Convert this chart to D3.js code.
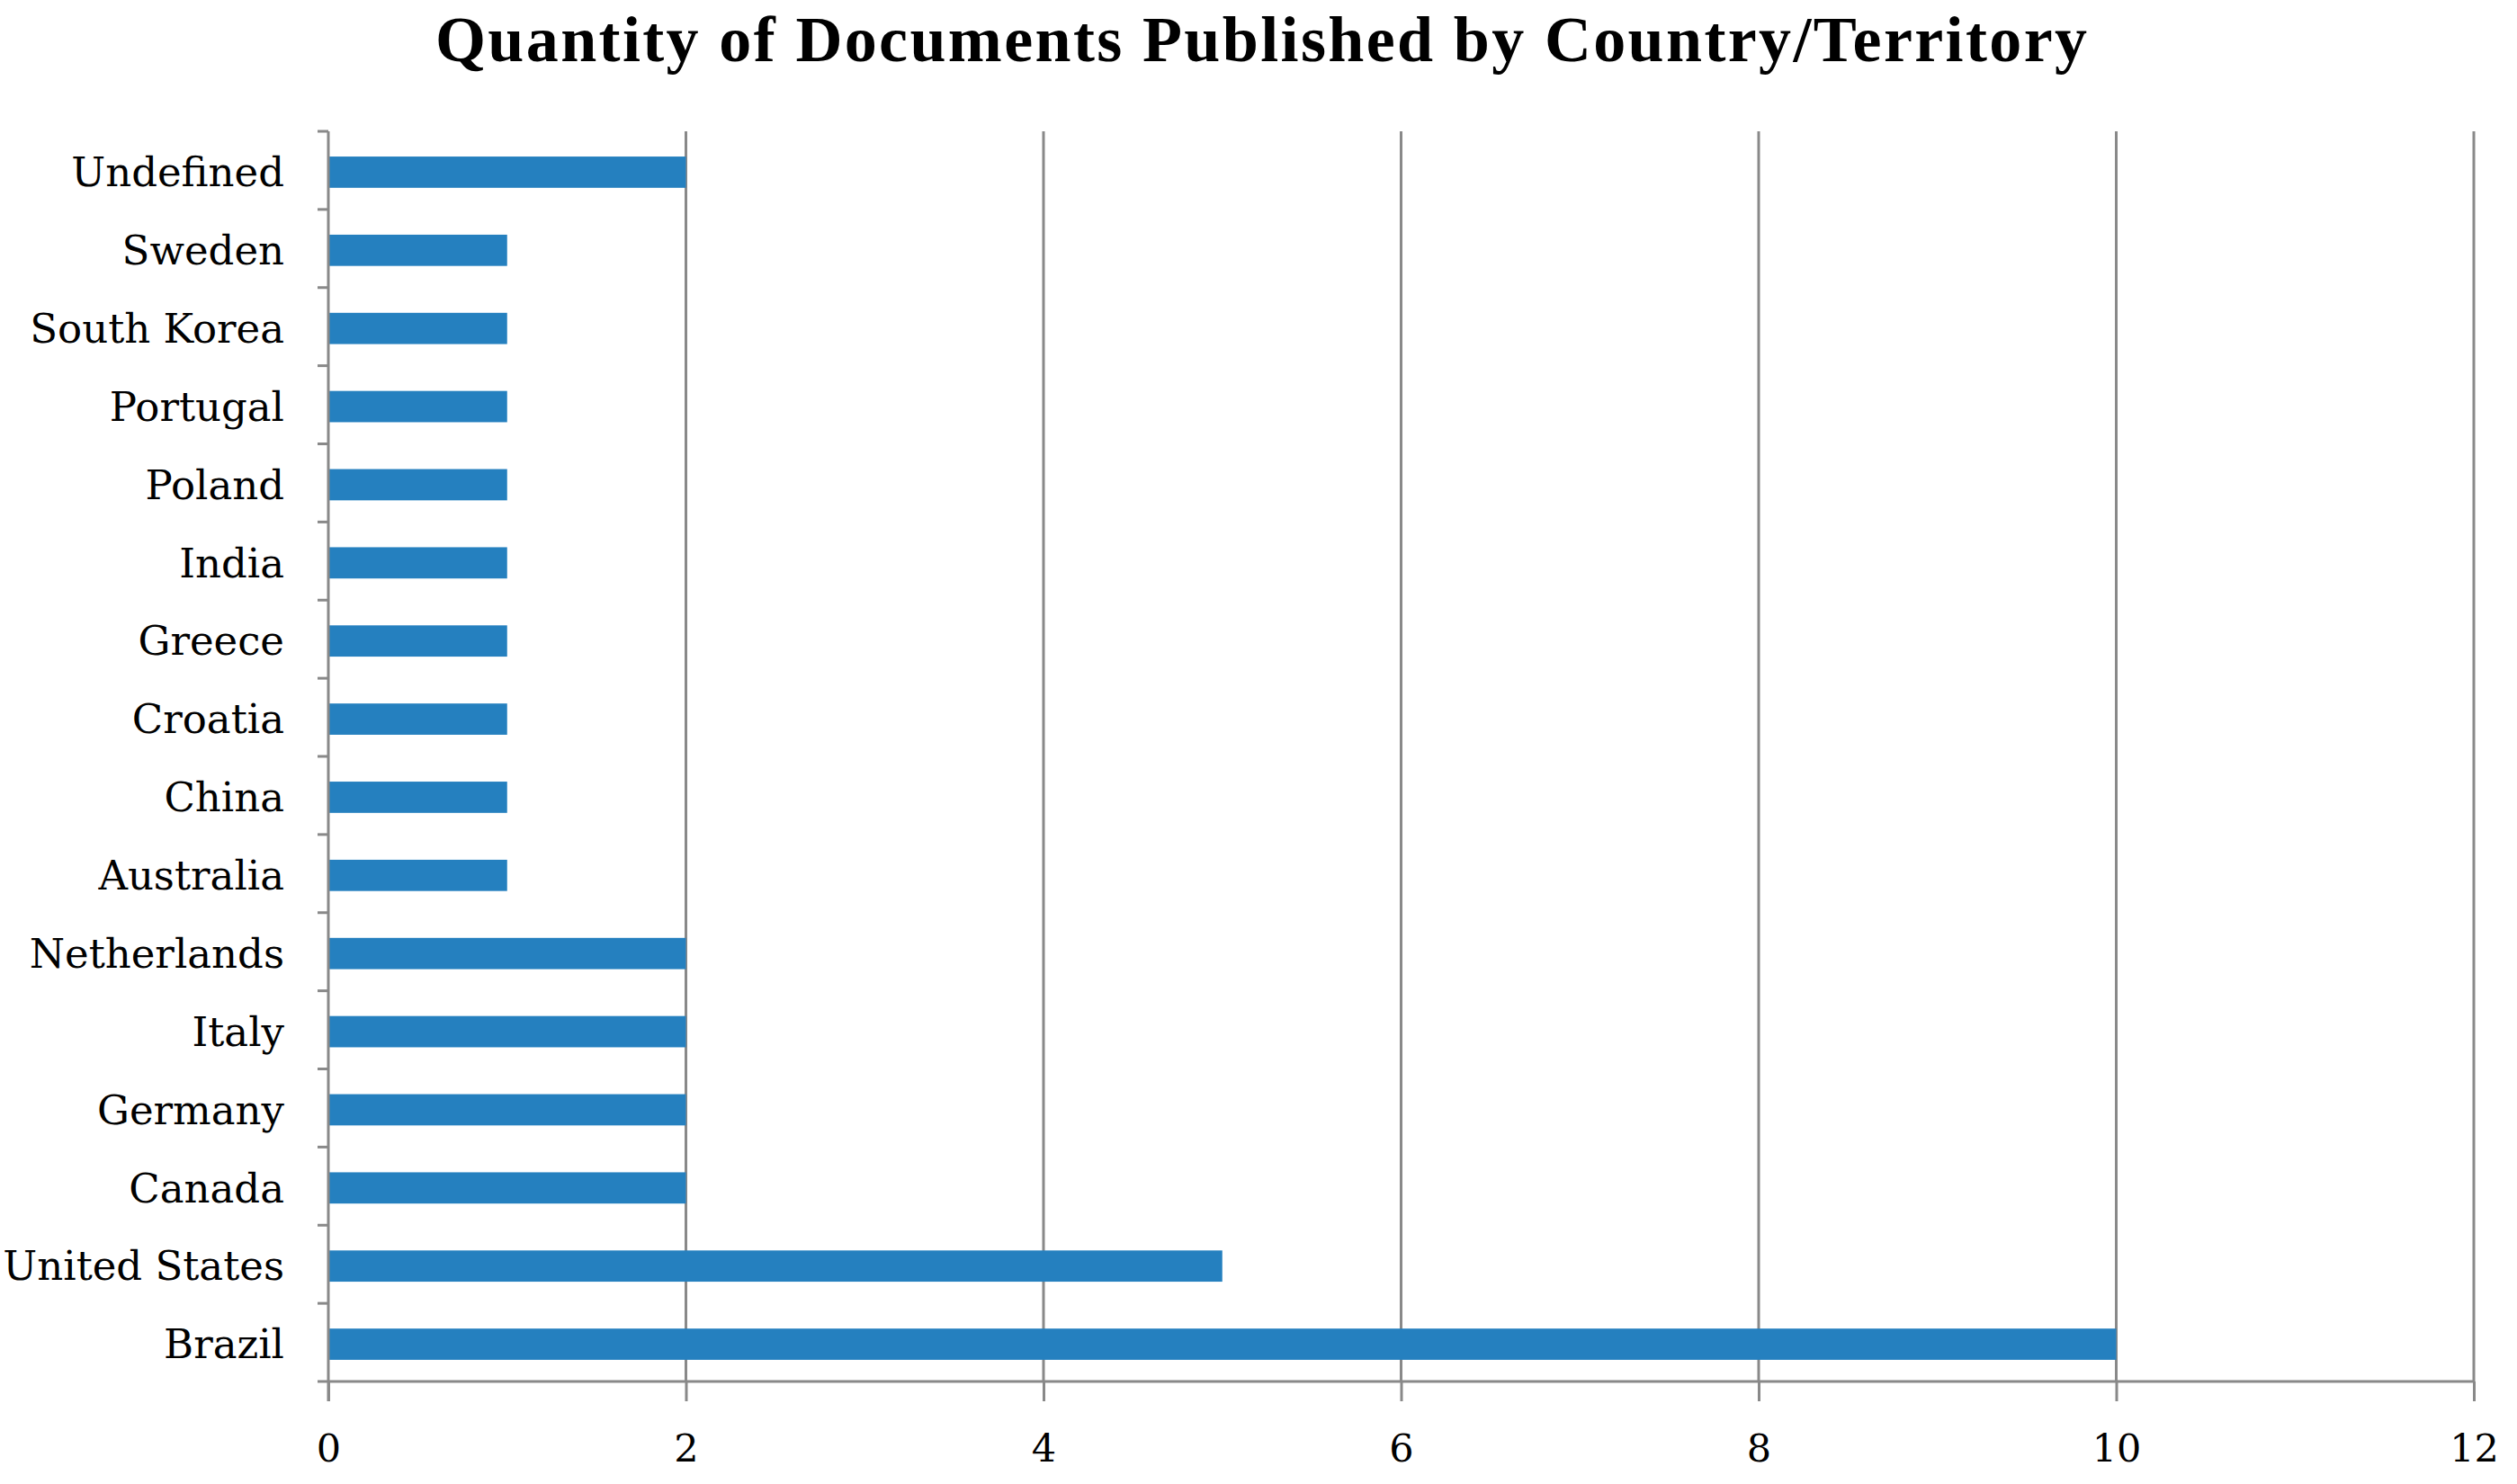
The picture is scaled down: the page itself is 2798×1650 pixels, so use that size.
<!DOCTYPE html>
<html><head><meta charset="utf-8">
<script src="https://cdn.jsdelivr.net/npm/d3@7"></script>
<style>html,body{margin:0;padding:0;background:#fff;}svg{display:block;}</style>
</head><body>
<script>
const categories = ["Undefined","Sweden","South Korea","Portugal","Poland","India","Greece","Croatia","China","Australia","Netherlands","Italy","Germany","Canada","United States","Brazil"];
const values = [2,1,1,1,1,1,1,1,1,1,2,2,2,2,5,10];
const xTicks = [0,2,4,6,8,10,12];
const titleText = "Quantity of Documents Published by Country/Territory";

const W = 2798, H = 1650;
const m = {left:365, right:2750, top:146, bottom:1536};
const svg = d3.select("body").append("svg").attr("width",W).attr("height",H);

const x = d3.scaleLinear().domain([0,12]).range([m.left,m.right]);
const y = d3.scaleBand().domain(categories).range([m.top,m.bottom]).paddingInner(0.6).paddingOuter(0.3);
const yb = d3.scaleBand().domain(categories).range([m.top,m.bottom]);

const grid = "#898989";
// gridlines
svg.append("g").selectAll("line").data(xTicks.filter(d=>d>0)).join("line")
  .attr("x1",d=>x(d)).attr("x2",d=>x(d)).attr("y1",m.top).attr("y2",m.bottom)
  .attr("stroke",grid).attr("stroke-width",3);

// bars
svg.append("g").selectAll("rect").data(categories).join("rect")
  .attr("x",x(0)).attr("y",d=>y(d)+2).attr("height",y.bandwidth())
  .attr("width",(d,i)=>x(values[i])-x(0))
  .attr("fill","#2580bf");

// x axis
const xa = svg.append("g").attr("transform",`translate(0,${m.bottom})`)
  .call(d3.axisBottom(x).tickValues(xTicks).tickSize(22).tickPadding(36));
xa.select(".domain").attr("stroke",grid).attr("stroke-width",3).attr("d",`M${m.left-12},0H${m.right}`);
xa.selectAll(".tick line").attr("stroke",grid).attr("stroke-width",3);
xa.selectAll(".tick text").attr("font-family","DejaVu Serif").attr("font-size",43).attr("fill","#000");

// y axis
const ya = svg.append("g").attr("transform",`translate(${m.left},0)`);
ya.append("line").attr("x1",0).attr("x2",0).attr("y1",m.top).attr("y2",m.bottom+22).attr("stroke",grid).attr("stroke-width",3);
ya.selectAll("line.t").data(categories).join("line").attr("class","t")
  .attr("x1",-12).attr("x2",0).attr("y1",d=>yb(d)).attr("y2",d=>yb(d))
  .attr("stroke",grid).attr("stroke-width",3);
ya.selectAll("text").data(categories).join("text")
  .attr("x",-49).attr("y",d=>yb(d)+yb.bandwidth()/2+2).attr("dy","0.35em")
  .attr("text-anchor","end").attr("font-family","DejaVu Serif").attr("font-size",45).attr("fill","#000")
  .text(d=>d);

// title
svg.append("text").attr("x",1402).attr("y",68).attr("text-anchor","middle")
  .attr("font-family","Liberation Serif").attr("font-weight","bold").attr("font-size",72).attr("fill","#000")
  .attr("textLength",1836).attr("lengthAdjust","spacing")
  .text(titleText);
</script>
</body></html>
